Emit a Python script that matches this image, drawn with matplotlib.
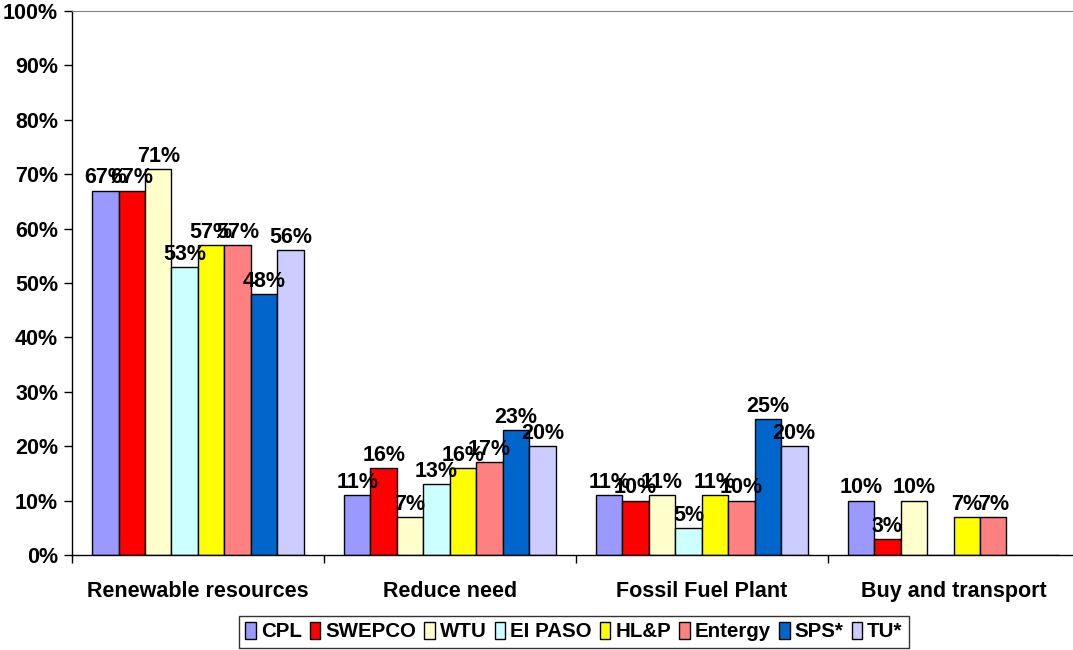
import numpy as np
import matplotlib.pyplot as plt

plt.rcParams['font.family'] = ['Liberation Sans', 'DejaVu Sans']
plt.rcParams['font.weight'] = 'bold'

categories = ['Renewable resources', 'Reduce need', 'Fossil Fuel Plant', 'Buy and transport']
series = ['CPL', 'SWEPCO', 'WTU', 'EI PASO', 'HL&P', 'Entergy', 'SPS*', 'TU*']
colors = ['#9999FF', '#FF0000', '#FFFFCC', '#CCFFFF', '#FFFF00', '#FF8080', '#0066CC', '#CCCCFF']

# percent per series, one value per category (nan = no bar)
cpl = [67, 11, 11, 10]
swepco = [67, 16, 10, 3]
wtu = [71, 7, 11, 10]
elpaso = [53, 13, 5, np.nan]
hlp = [57, 16, 11, 7]
entergy = [57, 17, 10, 7]
sps = [48, 23, 25, np.nan]
tu = [56, 20, 20, np.nan]
values = [cpl, swepco, wtu, elpaso, hlp, entergy, sps, tu]

fig = plt.figure(figsize=(10.73, 6.5), dpi=100)
ax = fig.add_axes([0.0671, 0.1462, 0.939, 0.8369])

fs = 15.5
x = np.arange(len(categories))
w = 0.105
for i, (name, vals) in enumerate(zip(series, values)):
    pos = x + (i - 3.5) * w
    v = np.array(vals, dtype=float)
    ax.bar(pos, np.nan_to_num(v), w, color=colors[i], edgecolor='black',
           linewidth=1, label=name)
    for p, val in zip(pos, v):
        if not np.isnan(val):
            ax.annotate(f'{val:.0f}%', (p, val), xytext=(0, 1.5), textcoords='offset points',
                        ha='center', va='bottom', fontsize=fs, fontweight='bold')

ax.set_xlim(-0.5, 3.5)
ax.set_ylim(0, 100)
ax.set_yticks(np.arange(0, 101, 10))
ax.set_yticklabels([f'{t}%' for t in range(0, 101, 10)], fontsize=fs, fontweight='bold')
ax.set_xticks(np.arange(-0.5, 3.6, 1))
ax.set_xticklabels([])
ax.set_xticks(x, minor=True)
ax.set_xticklabels(categories, minor=True, fontsize=fs, fontweight='bold')
ax.tick_params(axis='x', which='minor', length=0, pad=19)
ax.tick_params(axis='x', which='major', length=6, direction='out', width=1)
ax.tick_params(axis='y', length=6, direction='out', width=1, pad=4)

ax.spines['top'].set_color('#808080')
ax.spines['right'].set_visible(False)
for s in ['left', 'bottom']:
    ax.spines[s].set_color('black')
    ax.spines[s].set_linewidth(1)

leg = fig.legend(loc='center', bbox_to_anchor=(0.535, 0.028), ncol=8, fontsize=14.8,
                 frameon=True, fancybox=False, edgecolor='black', handlelength=0.5,
                 handleheight=0.85, handletextpad=0.25, columnspacing=0.4,
                 borderpad=0.3, borderaxespad=0)
leg.get_frame().set_linewidth(1)

fig.savefig('out.png', dpi=100)
